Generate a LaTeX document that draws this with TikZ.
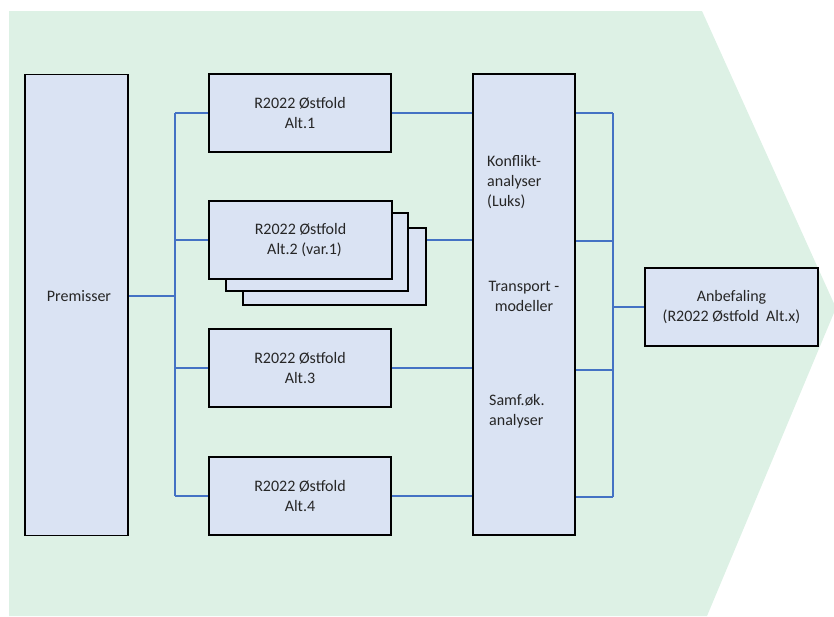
\documentclass[tikz,border=0pt]{standalone}
\usepackage{fontspec}
\setmainfont{Carlito}
\definecolor{bggreen}{HTML}{DDF1E5}
\definecolor{boxblue}{HTML}{DAE3F3}
\definecolor{lineblue}{HTML}{4472C4}
\definecolor{txt}{HTML}{262626}
\begin{document}
\begin{tikzpicture}[x=1pt,y=-1pt,
  box/.style={draw=black,line width=1.6pt,fill=boxblue,inner sep=0pt,text=txt,align=center,font=\fontsize{16}{20}\selectfont},
  lbl/.style={inner sep=0pt,text=txt,font=\fontsize{16}{20}\selectfont},
  conn/.style={draw=lineblue,line width=1.8pt}]
\useasboundingbox (0,0) rectangle (834,616);
\fill[bggreen] (9,11) -- (702,11) -- (836,308) -- (707,616) -- (9,616) -- cycle;
% boxes
\node[box,minimum width=103pt,minimum height=461pt] (prem) at (76.5,305) {};
\node[lbl] (premtxt) at (79,296) {Premisser};
\node[box,minimum width=182pt,minimum height=78pt] (alt1) at (300,113) {R2022 Østfold\\Alt.1};
\node[box,minimum width=183pt,minimum height=77pt] (alt2c) at (334.5,266.5) {};
\node[box,minimum width=182pt,minimum height=78pt] (alt2b) at (317,252) {};
\node[box,minimum width=183pt,minimum height=78pt] (alt2a) at (300.5,240) {R2022 Østfold\\\hspace*{8pt}Alt.2 (var.1)};
\node[box,minimum width=182pt,minimum height=78pt] (alt3) at (300,368) {R2022 Østfold\\Alt.3};
\node[box,minimum width=182pt,minimum height=78pt] (alt4) at (300,496) {R2022 Østfold\\Alt.4};
\node[box,minimum width=102pt,minimum height=461pt] (mid) at (524,304.5) {};
\node[lbl,anchor=west,align=left] (konf) at (487,182) {Konflikt-\\analyser\\(Luks)};
\node[lbl,align=center] (trans) at (524,296) {Transport -\\modeller};
\node[lbl,anchor=west,align=left] (samf) at (489,411) {Samf.øk.\\analyser};
\node[box,minimum width=173pt,minimum height=78pt] (anb) at (731.5,307) {Anbefaling\\(R2022 Østfold\ \ Alt.x)};
% left bus
\coordinate (bl) at (175,296);
\draw[conn] (prem.east |- bl) -- (bl);
\draw[conn] (bl |- alt1.west) -- (bl |- alt4.west);
\draw[conn] (bl |- alt1.west) -- (alt1.west);
\draw[conn] (bl |- alt2a.west) -- (alt2a.west);
\draw[conn] (bl |- alt3.west) -- (alt3.west);
\draw[conn] (bl |- alt4.west) -- (alt4.west);
% middle connections
\draw[conn] (alt1.east) -- (mid.west |- alt1.east);
\draw[conn] (alt2c.east |- alt2a.west) -- (mid.west |- alt2a.west);
\draw[conn] (alt3.east) -- (mid.west |- alt3.east);
\draw[conn] (alt4.east) -- (mid.west |- alt4.east);
% right bus
\coordinate (r1) at (613,113);
\coordinate (r2) at (613,241);
\coordinate (r3) at (613,370);
\coordinate (r4) at (613,497);
\draw[conn] (mid.east |- r1) -- (r1);
\draw[conn] (mid.east |- r2) -- (r2);
\draw[conn] (mid.east |- r3) -- (r3);
\draw[conn] (mid.east |- r4) -- (r4);
\draw[conn] (r1) -- (r4);
\draw[conn] (r1 |- anb.west) -- (anb.west);
\end{tikzpicture}
\end{document}
